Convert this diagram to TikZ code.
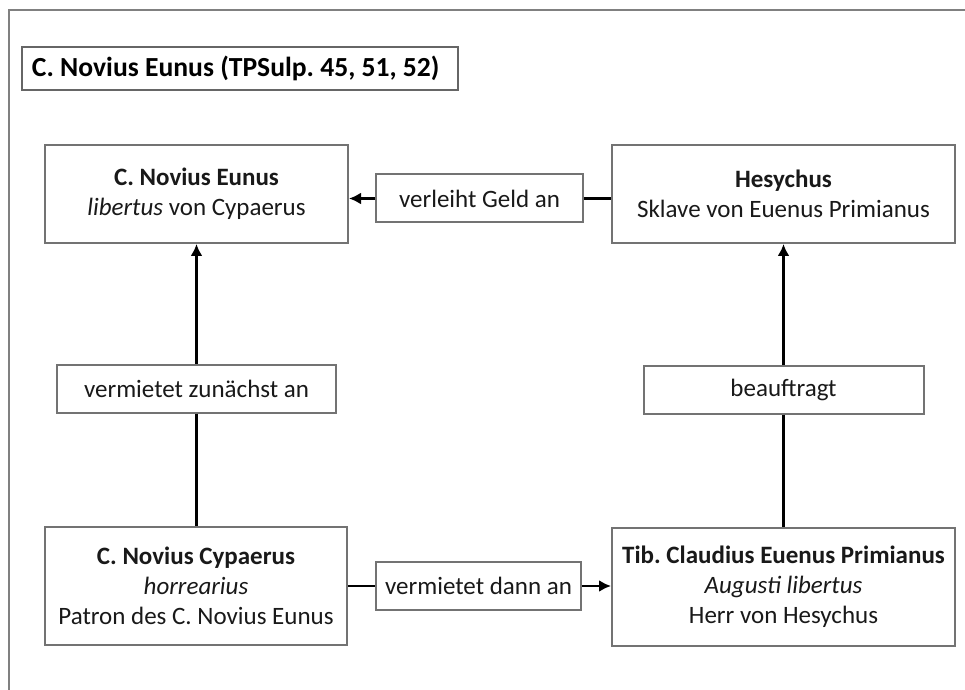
\documentclass[tikz,border=0pt]{standalone}
\usepackage{fontspec}
\setmainfont{Carlito}
\usepackage{tikz}
\usetikzlibrary{arrows.meta}
\usetikzlibrary{positioning}
\frenchspacing
\tikzset{
frame line/.style = { draw = black!50, line width = 1pt },
heading/.style = { rectangle, draw = black!60, line width = 1pt, fill = white, align = flush left, text width = 208pt, inner xsep = 5pt, inner ysep = 0pt, minimum height = 21.5pt, font = \fontsize{13.8}{16}\selectfont\bfseries },
person/.style = { rectangle, draw = black!55, line width = 1pt, fill = white, text = black!90, align = flush center, inner sep = 0pt, font = \fontsize{12.5}{15}\selectfont },
relation/.style = { rectangle, draw = black!55, line width = 1pt, fill = white, text = black!90, inner sep = 0pt, minimum height = 24pt, font = \fontsize{12.5}{15}\selectfont },
link/.style = { draw = black, line width = 1.3pt },
link arrow/.style = { link, -{Latex[length = 6pt, width = 6pt]} },
}
\begin{document}
\begin{tikzpicture}[x = 0.5pt, y = -0.5pt]
    \useasboundingbox (0, 0) rectangle (965, 690);
    % outer frame, open to the right and to the bottom
    \path[frame line] (9, 690) -- (9, 10) -- (965, 10);
    \node[heading] (title) at (240, 68.5) {\mbox{C. Novius Eunus (TPSulp. 45, 51, 52)}};
    \node[person, minimum width = 151.5pt, minimum height = 49pt] (eunus) at (196.5, 194) {\textbf{C. Novius Eunus}\\\textit{libertus} von Cypaerus};
    \node[person, minimum width = 171.5pt, minimum height = 49pt] (hesychus) at (783.5, 194) {\textbf{Hesychus}\\Sklave von Euenus Primianus};
    \node[person, minimum width = 151pt, minimum height = 59pt] (cypaerus) at (196, 586) {\textbf{C. Novius Cypaerus}\\\textit{horrearius}\\Patron des C. Novius Eunus};
    \node[person, minimum width = 171.5pt, minimum height = 59pt] (primianus) at (783.5, 586.5) {\textbf{Tib. Claudius Euenus Primianus}\\\textit{Augusti libertus}\\Herr von Hesychus};
    \node[relation, minimum width = 103.5pt] (lend) at (479.5, 198.5) {verleiht Geld an};
    \node[relation, minimum width = 139.5pt] (firstrent) at (196.5, 388.5) {vermietet zunächst an};
    \node[relation, minimum width = 140pt] (order) at (783.5, 389.5) {beauftragt};
    \node[relation, minimum width = 102.5pt] (thenrent) at (478.5, 586) {vermietet dann an};
    \path[link] (lend.east) -- (lend.east -| hesychus.west);
    \path[link arrow] (lend.west) -- (lend.west -| eunus.east);
    \path[link] (firstrent.south) -- (firstrent.south |- cypaerus.north);
    \path[link arrow] (firstrent.north) -- (firstrent.north |- eunus.south);
    \path[link] (order.south) -- (order.south |- primianus.north);
    \path[link arrow] (order.north) -- (order.north |- hesychus.south);
    \path[link] (cypaerus.east) -- (cypaerus.east -| thenrent.west);
    \path[link arrow] (thenrent.east) -- (thenrent.east -| primianus.west);
\end{tikzpicture}
\end{document}
